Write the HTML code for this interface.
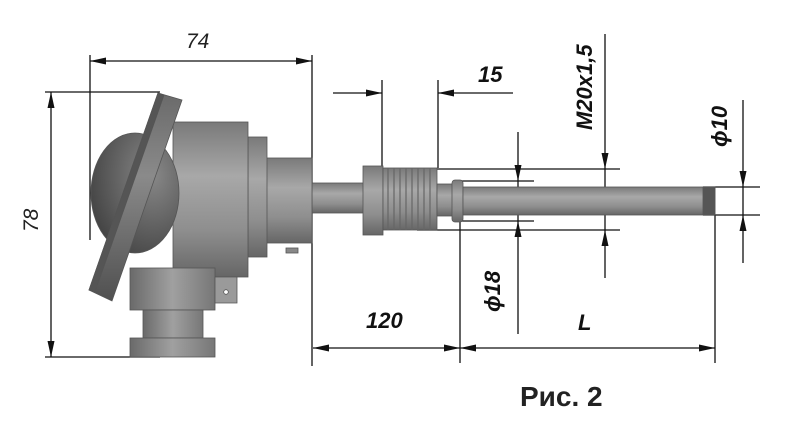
<!DOCTYPE html>
<html><head><meta charset="utf-8"><style>
html,body{margin:0;padding:0;background:#fff;}
svg{display:block;}
.d{font-family:"Liberation Sans",sans-serif;font-style:italic;font-weight:bold;font-size:22px;fill:#111;}
</style></head><body>
<svg width="800" height="437" viewBox="0 0 800 437" xmlns="http://www.w3.org/2000/svg">
<defs>
<linearGradient id="gv" x1="0" y1="0" x2="0" y2="1">
<stop offset="0" stop-color="#7a7a7a"/><stop offset="0.35" stop-color="#a8a8a8"/><stop offset="0.7" stop-color="#8e8e8e"/><stop offset="1" stop-color="#666"/></linearGradient>
<linearGradient id="gp" x1="0" y1="0" x2="0" y2="1">
<stop offset="0" stop-color="#6a6a6a"/><stop offset="0.4" stop-color="#8a8a8a"/><stop offset="1" stop-color="#505050"/></linearGradient>
<linearGradient id="gh" x1="0" y1="0" x2="1" y2="0">
<stop offset="0" stop-color="#6a6a6a"/><stop offset="0.5" stop-color="#a0a0a0"/><stop offset="1" stop-color="#777"/></linearGradient>
<radialGradient id="gd" cx="0.7" cy="0.35" r="0.8">
<stop offset="0" stop-color="#888"/><stop offset="1" stop-color="#404040"/></radialGradient>
</defs>
<g stroke="#111" stroke-width="1.3" fill="none">
<line x1="90" y1="55" x2="90" y2="240"/>
<line x1="312" y1="55" x2="312" y2="366"/>
<line x1="90" y1="61" x2="312" y2="61"/>
<line x1="45" y1="92" x2="160" y2="92"/>
<line x1="45" y1="357" x2="160" y2="357"/>
<line x1="51" y1="92" x2="51" y2="357"/>
<line x1="382" y1="80" x2="382" y2="168"/>
<line x1="438" y1="80" x2="438" y2="168"/>
<line x1="333" y1="93" x2="382" y2="93"/>
<line x1="513" y1="93" x2="438" y2="93"/>
<line x1="417" y1="169" x2="620" y2="169"/>
<line x1="417" y1="230" x2="620" y2="230"/>
<line x1="605" y1="34" x2="605" y2="278"/>
<line x1="460" y1="181" x2="534" y2="181"/>
<line x1="460" y1="221" x2="534" y2="221"/>
<line x1="518" y1="132" x2="518" y2="334"/>
<line x1="703" y1="187" x2="760" y2="187"/>
<line x1="703" y1="215" x2="760" y2="215"/>
<line x1="743" y1="100" x2="743" y2="263"/>
<line x1="460" y1="182" x2="460" y2="363"/>
<line x1="715" y1="215" x2="715" y2="363"/>
<line x1="313" y1="348" x2="715" y2="348"/>
</g>
<g fill="#111">
<polygon points="90,61 106,57.5 106,64.5"/><polygon points="312,61 296,57.5 296,64.5"/>
<polygon points="51,92 47.5,108 54.5,108"/><polygon points="51,357 47.5,341 54.5,341"/>
<polygon points="382,93 366,89.5 366,96.5"/><polygon points="438,93 454,89.5 454,96.5"/>
<polygon points="605,169 601.5,153 608.5,153"/><polygon points="605,230 601.5,246 608.5,246"/>
<polygon points="518,181 514.5,165 521.5,165"/><polygon points="518,221 514.5,237 521.5,237"/>
<polygon points="743,187 739.5,171 746.5,171"/><polygon points="743,215 739.5,231 746.5,231"/>
<polygon points="313,348 329,344.5 329,351.5"/><polygon points="460,348 444,344.5 444,351.5"/>
<polygon points="460,348 476,344.5 476,351.5"/><polygon points="715,348 699,344.5 699,351.5"/>
</g>
<g stroke="#555" stroke-width="0.8">
<rect x="312" y="183" width="52" height="30" fill="url(#gv)"/>
<rect x="248" y="158" width="64" height="85" fill="url(#gv)"/>
<rect x="248" y="137" width="19" height="120" fill="url(#gv)"/>
<rect x="173" y="122" width="75" height="155" fill="url(#gv)"/>
<rect x="130" y="268" width="85" height="42" fill="url(#gh)"/>
<rect x="143" y="310" width="60" height="28" fill="url(#gh)"/>
<rect x="130" y="338" width="85" height="19" fill="url(#gh)"/>
<path d="M215,277 L237,277 L237,303 L215,303 z" fill="#9a9a9a"/>
<circle cx="226" cy="292" r="2.3" fill="#fff"/>
<rect x="286" y="248" width="12" height="5" fill="#888"/>
<ellipse cx="135" cy="193" rx="44" ry="60" fill="url(#gd)"/>
<polygon points="158,93 182,100 112,301 89,290" fill="url(#gp)"/>
<polygon points="158,93 164,95 95,292 89,290" fill="#555"/>
<rect x="363" y="166" width="20" height="69" fill="url(#gv)"/>
<rect x="383" y="168" width="54" height="62" fill="url(#gv)"/>
<g stroke="#666" stroke-width="1.2">
<line x1="388" y1="168" x2="388" y2="230"/><line x1="394" y1="168" x2="394" y2="230"/><line x1="400" y1="168" x2="400" y2="230"/><line x1="406" y1="168" x2="406" y2="230"/><line x1="412" y1="168" x2="412" y2="230"/><line x1="418" y1="168" x2="418" y2="230"/><line x1="424" y1="168" x2="424" y2="230"/><line x1="430" y1="168" x2="430" y2="230"/>
</g>
<rect x="437" y="184" width="16" height="32" fill="url(#gv)"/>
<rect x="452" y="180" width="11" height="42" rx="3" fill="url(#gv)"/>
<rect x="463" y="187" width="252" height="28" fill="url(#gv)"/>
<rect x="703" y="187" width="12" height="28" fill="#555"/>
</g>
<text x="186" y="48" style="font-family:'Liberation Sans',sans-serif;font-style:italic;font-size:21px;fill:#222">74</text>
<text transform="translate(38,232) rotate(-90)" style="font-family:'Liberation Sans',sans-serif;font-style:italic;font-size:21px;fill:#222">78</text>
<text class="d" x="478" y="82">15</text>
<text class="d" transform="translate(592,130) rotate(-90)">M20x1,5</text>
<text class="d" transform="translate(500,312) rotate(-90)">ϕ18</text>
<text class="d" transform="translate(727,147) rotate(-90)">ϕ10</text>
<text class="d" x="366" y="328">120</text>
<text class="d" x="578" y="330">L</text>
<text x="520" y="406" style="font-family:'Liberation Sans',sans-serif;font-weight:bold;font-size:28px;fill:#222">Рис. 2</text>
</svg>
</body></html>
